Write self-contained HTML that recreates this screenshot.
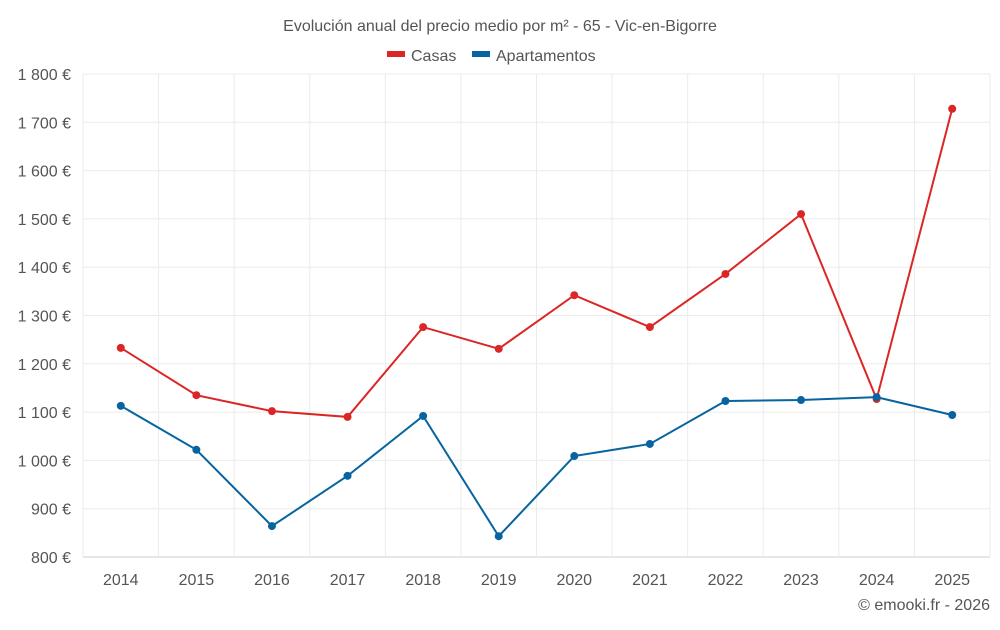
<!DOCTYPE html>
<html><head><meta charset="utf-8"><style>
body{margin:0;background:#fff;font-family:"Liberation Sans",Roboto,sans-serif;}
svg text{font-family:"Liberation Sans",sans-serif;fill:#555;}
</style></head><body>
<svg id="chart" width="1000" height="625" xmlns="http://www.w3.org/2000/svg">
<text x="500" y="31" text-anchor="middle" font-size="16">Evolución anual del precio medio por m² - 65 - Vic-en-Bigorre</text>
<g>
<g><rect x="387" y="51" width="18" height="6" fill="#dc2626"/><text x="411" y="61" font-size="16">Casas</text></g>
<g><rect x="472" y="51" width="18" height="6" fill="#0764a0"/><text x="496" y="61" font-size="16">Apartamentos</text></g>
</g>
<g id="grid"></g><g id="axes"></g><g id="series"></g>
<text x="990" y="610" text-anchor="end" font-size="16">© emooki.fr - 2026</text>
</svg>
<script>
const years=[2014,2015,2016,2017,2018,2019,2020,2021,2022,2023,2024,2025];
const casas=[1233,1135,1102,1090,1276,1231,1342,1276,1386,1510,1127,1728];
const apartamentos=[1113,1022,864,968,1092,843,1009,1034,1123,1125,1131,1094];
const yTicks=[800,900,1000,1100,1200,1300,1400,1500,1600,1700,1800];
const L=83,R=990,T=74,B=557,yMin=800,yMax=1800;
const step=(R-L)/years.length;
const xs=i=>L+step*(i+0.5);
const ys=v=>B-(v-yMin)/(yMax-yMin)*(B-T);
const NS="http://www.w3.org/2000/svg";
function mk(p,t,a){const e=document.createElementNS(NS,t);for(const k in a)e.setAttribute(k,a[k]);p.appendChild(e);return e;}
const grid=document.getElementById('grid'),axes=document.getElementById('axes'),ser=document.getElementById('series');
yTicks.forEach(v=>{
 const l=mk(grid,'line',{x1:L,x2:R,y1:ys(v),y2:ys(v),stroke:v===yMin?'#ccc':'#ebebeb'});
 
 
 const t=mk(axes,'text',{x:71,y:ys(v)+6,'text-anchor':'end','font-size':16});
 t.textContent=v.toLocaleString('fr-FR').replace(/\u202f|\u00a0/g,' ')+' €';
 
 
});
for(let i=0;i<=years.length;i++){
 const l=mk(grid,'line',{x1:L+step*i,x2:L+step*i,y1:T,y2:B,stroke:'#ebebeb'});
 
 
}
years.forEach((y,i)=>{
 const t=mk(axes,'text',{x:xs(i),y:585,'text-anchor':'middle','font-size':16});
 t.textContent=y;
 
 
});
function draw(vals,color,name){
 const p=mk(ser,'polyline',{points:vals.map((v,i)=>xs(i)+','+ys(v)).join(' '),fill:'none',stroke:color,'stroke-width':2});
 
 
 vals.forEach((v,i)=>{
  const c=mk(ser,'circle',{cx:xs(i),cy:ys(v),r:4,fill:color});
  
  
 });
}
draw(casas,'#dc2626','casas');
draw(apartamentos,'#0764a0','apartamentos');
</script>
</body></html>
